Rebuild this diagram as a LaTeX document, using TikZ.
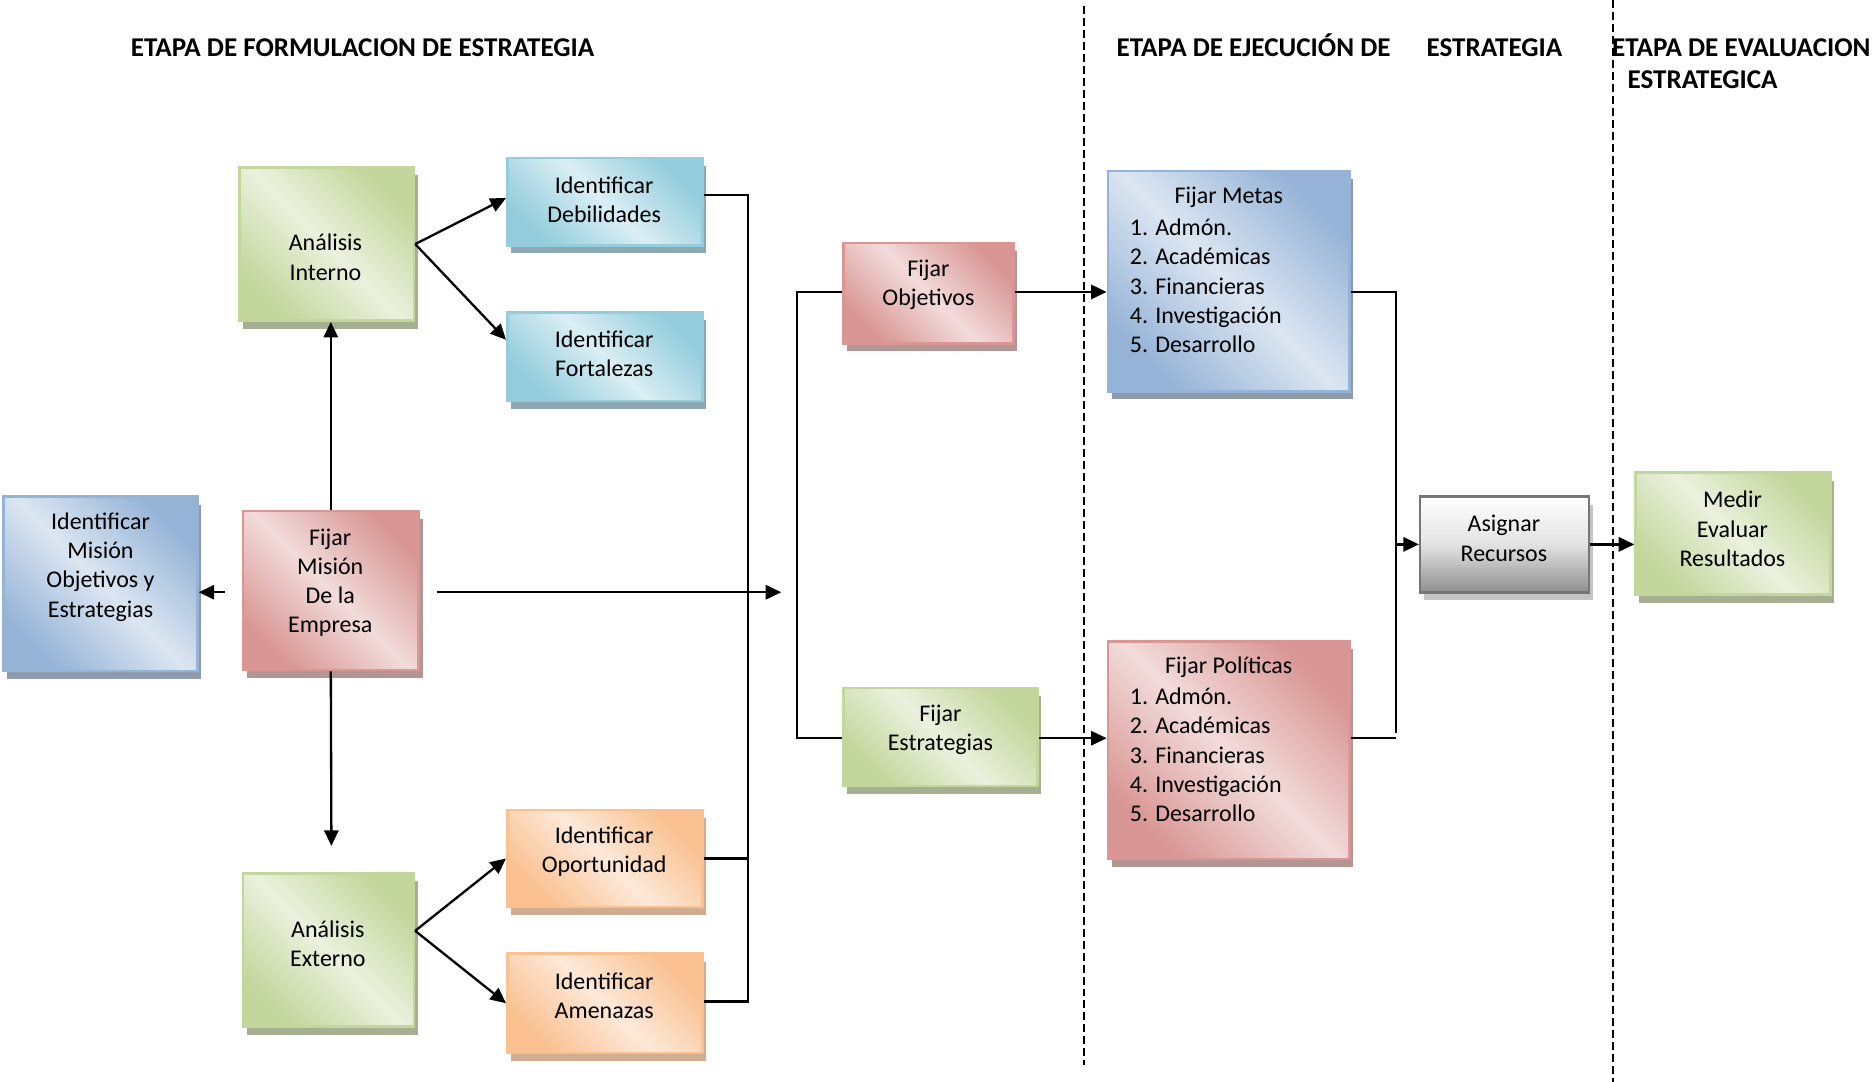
\documentclass[tikz,border=0pt]{standalone}
\usepackage{fontspec}
\setmainfont{Carlito}
\usetikzlibrary{arrows.meta,shadows,calc}

% fill, border and shadow colours
\definecolor{grnD}{HTML}{C3D69B}\definecolor{grnL}{HTML}{EBF1DE}\definecolor{grnS}{HTML}{A6AF91}
\definecolor{cyaD}{HTML}{93CDDD}\definecolor{cyaL}{HTML}{DBEEF4}\definecolor{cyaS}{HTML}{8DA8B0}
\definecolor{bluD}{HTML}{95B3D7}\definecolor{bluL}{HTML}{DCE6F2}\definecolor{bluS}{HTML}{8E9AAB}
\definecolor{redD}{HTML}{D99694}\definecolor{redL}{HTML}{F2DCDB}\definecolor{redS}{HTML}{B39594}
\definecolor{orgD}{HTML}{FAC090}\definecolor{orgL}{HTML}{FDE9D9}\definecolor{orgS}{HTML}{CFAC92}
\definecolor{gryB}{HTML}{767676}\definecolor{gryD}{HTML}{8E8E8E}\definecolor{gryS}{HTML}{C4C4C4}

\tikzset{
  card/.style={draw=#1D, line width=1.2pt, top color=#1D, bottom color=#1D,
    middle color=#1L, shading angle=-45, inner sep=0pt,
    drop shadow={shadow xshift=1.8pt, shadow yshift=-3.8pt, fill=#1S, opacity=1}},
  graycard/.style={draw=gryB, line width=1.2pt, top color=white, bottom color=gryD,
    middle color=gray!22, inner sep=0pt,
    drop shadow={shadow xshift=1.8pt, shadow yshift=-3.8pt, fill=gryS, opacity=1}},
  lbl/.style={align=center, inner sep=0pt, font=\fontsize{11.4}{13.9}\selectfont},
  lst/.style={align=left, inner sep=0pt, anchor=west, font=\fontsize{11.4}{13.9}\selectfont},
  head/.style={inner sep=0pt, anchor=base west, font=\fontsize{12.9}{14}\selectfont\bfseries},
  conn/.style={line width=1.1pt},
  arr/.style={conn, -{Triangle[length=7.4pt,width=6.8pt]}},
  stage/.style={line width=0.8pt, dash pattern=on 3.8pt off 1.9pt}
}

% box: name, style, x1, y1, x2, y2
\newcommand\flowbox[6]{%
  \node[#2, minimum width={(#5-#3)*0.02cm}, minimum height={(#6-#4)*0.02cm}]
    (#1) at ({(#3+#5)/2},{(#4+#6)/2}) {};}

\begin{document}
\begin{tikzpicture}[x=0.02cm, y=-0.02cm]
\useasboundingbox (0,0) rectangle (1568,904);

% stage separators
\draw[stage] (906,5) -- (906,890);
\draw[stage] (1348,0) -- (1348,904);

% stage headings
\node[head] (h1) at (109,47) {ETAPA DE FORMULACION DE ESTRATEGIA};
\node[head] (h2) at (933,47) {ETAPA DE EJECUCIÓN DE};
\node[head] (h3) at (1192,47) {ESTRATEGIA};
\node[head] (h4) at (1347,47) {ETAPA DE EVALUACION};
\node[head] (h5) at (1360,74) {ESTRATEGICA};

% boxes
\flowbox{ai}{card=grn}{200}{140}{346}{268}
\flowbox{id}{card=cya}{424}{132}{587}{205}
\flowbox{if}{card=cya}{424}{261}{587}{335}
\flowbox{im}{card=blu}{3}{415}{165}{561}
\flowbox{fm}{card=red}{203}{427}{350}{560}
\flowbox{ae}{card=grn}{203}{730}{346}{858}
\flowbox{io}{card=org}{424}{677}{587}{758}
\flowbox{ia}{card=org}{424}{797}{587}{880}
\flowbox{fo}{card=red}{705}{203}{847}{287}
\flowbox{fe}{card=grn}{705}{575}{867}{657}
\flowbox{mt}{card=blu}{926}{143}{1128}{327}
\flowbox{po}{card=red}{926}{536}{1128}{718}
\flowbox{ar}{graycard}{1187}{415}{1328}{495}
\flowbox{me}{card=grn}{1367}{395}{1530}{497}

% box texts
\node[lbl] (ai-t) at (272,215) {Análisis\\Interno};
\node[lbl] (id-t) at (505,167) {Identificar\\Debilidades};
\node[lbl] (if-t) at (505,296) {Identificar\\Fortalezas};
\node[lbl] (im-t) at (84,474) {Identificar\\Misión\\Objetivos y\\Estrategias};
\node[lbl] (fm-t) at (276,487) {Fijar\\Misión\\De la\\Empresa};
\node[lbl] (ae-t) at (274,789) {Análisis\\Externo};
\node[lbl] (io-t) at (505,712) {Identificar\\Oportunidad};
\node[lbl] (ia-t) at (505,832) {Identificar\\Amenazas};
\node[lbl] (fo-t) at (776,238) {Fijar\\Objetivos};
\node[lbl] (fe-t) at (786,610) {Fijar\\Estrategias};
\node[lbl] (mt-t) at (1027,165) {Fijar Metas};
\node[lst] (mt-l) at (944,239) {1. Admón.\\2. Académicas\\3. Financieras\\4. Investigación\\5. Desarrollo};
\node[lbl] (po-t) at (1027,558) {Fijar Políticas};
\node[lst] (po-l) at (944,631) {1. Admón.\\2. Académicas\\3. Financieras\\4. Investigación\\5. Desarrollo};
\node[lbl] (ar-t) at (1257,450) {Asignar\\Recursos};
\node[lbl] (me-t) at (1448,442) {Medir\\Evaluar\\Resultados};

% free ends and junction columns
\coordinate (fmL) at (188,495);
\coordinate (fmR) at (365,495);
\coordinate (join) at (653,495);
\coordinate (fmD) at (277,707);
\coordinate (aeP) at (347,778);
\coordinate (b1t) at (625,163);
\coordinate (b1b) at (625,837);
\coordinate (b2t) at (666,244);
\coordinate (b2b) at (666,617);
\coordinate (b3t) at (1167,244);
\coordinate (b3b) at (1167,613);
\coordinate (b3m) at (1167,455);

% formulation stage
\draw[arr] (ai.east) -- ($(id.west)+(0,-3)$);
\draw[arr] (ai.east) -- ($(if.west)+(0,-14)$);
\draw[arr] (fm.north) -- (fm.north |- ai.south);
\draw[arr] (fmL) -- (fmL -| im.east);
\draw[arr] (fm.south) -- (fmD);
\draw[arr] (fmR) -- (join);
\draw[arr] (aeP) -- (io.west);
\draw[arr] (aeP) -- (ia.west);

% bracket collecting the identification boxes
\draw[conn] (id.east |- b1t) -- (b1t) -- (b1b) -- (ia.east |- b1b);
\draw[conn] ($(if.east)+(0,-13)$) -- ($(if.east)+(0,-13)$ -| b1t);
\draw[conn] (io.east) -- (io.east -| b1t);

% bracket feeding objectives and strategies
\draw[conn] (fo.west |- b2t) -- (b2t) -- (b2b) -- (fe.west |- b2b);

% execution stage
\draw[arr] (fo.east |- b2t) -- (mt.west |- b2t);
\draw[arr] (fe.east |- b2b) -- (po.west |- b2b);
\draw[conn] (mt.east |- b3t) -- (b3t) -- (b3b);
\draw[conn] (po.east |- b2b) -- (b3b |- b2b);
\draw[arr] (b3m) -- (ar.west |- b3m);

% evaluation stage
\draw[arr] (ar.east |- b3m) -- (me.west |- b3m);
\end{tikzpicture}
\end{document}
